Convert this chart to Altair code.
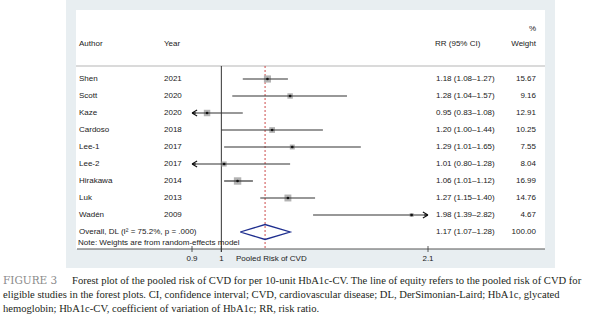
import altair as alt
import pandas as pd

# ---- data ----
authors = ["Shen", "Scott", "Kaze", "Cardoso", "Lee-1", "Lee-2", "Hirakawa", "Luk", "Wadén"]
years = [2021, 2020, 2020, 2018, 2017, 2017, 2014, 2013, 2009]
rr = [1.18, 1.28, 0.95, 1.20, 1.29, 1.01, 1.06, 1.27, 1.98]
lo = [1.08, 1.04, 0.83, 1.00, 1.01, 0.80, 1.01, 1.15, 1.39]
hi = [1.27, 1.57, 1.08, 1.44, 1.65, 1.28, 1.12, 1.40, 2.82]
weights = [15.67, 9.16, 12.91, 10.25, 7.55, 8.04, 16.99, 14.76, 4.67]
pooled = [1.17, 1.07, 1.28]  # estimate, lower, upper
overall_label = "Overall, DL (I² = 75.2%, p = .000)"
note_label = "Note: Weights are from random-effects model"
tick_values = [0.9, 1, 2.1]
tick_labels = ["0.9", "1", "2.1"]
axis_title = "Pooled Risk of CVD"
caption_head = "FIGURE 3"
caption_lines = [
    "Forest plot of the pooled risk of CVD for per 10-unit HbA1c-CV. The line of equity refers to the pooled risk of CVD for",
    "eligible studies in the forest plots. CI, confidence interval; CVD, cardiovascular disease; DL, DerSimonian-Laird; HbA1c, glycated",
    "hemoglobin; HbA1c-CV, coefficient of variation of HbA1c; RR, risk ratio.",
]

XMIN, XMAX = 0.9, 2.1
FONT = "Liberation Sans"
SERIF = "Liberation Serif"
FS = 8
CFS = 10.6

df = pd.DataFrame({
    "author": authors, "year": [str(y) for y in years], "rr": rr, "lo": lo, "hi": hi,
    "w": weights, "row": list(range(len(authors))),
})
df["lo_c"] = df["lo"].clip(lower=XMIN)
df["hi_c"] = df["hi"].clip(upper=XMAX)
df["ci"] = [f"{a:.2f} ({b:.2f}–{c:.2f})" for a, b, c in zip(rr, lo, hi)]
df["wt"] = [f"{w:.2f}" for w in weights]

n = len(authors)
xs = alt.Scale(type="log", domain=[XMIN, XMAX], range=[192, 428], nice=False, zero=False)
ys = alt.Scale(domain=[0, n], range=[79, 79 + 17 * n], zero=False, nice=False)
X = lambda f: alt.X(f, type="quantitative", scale=xs, axis=None)
Y = lambda f: alt.Y(f, type="quantitative", scale=ys, axis=None)

one = alt.Data(values=[{"a": 1}])


def box(x1, x2, y1, y2, color):
    return alt.Chart(one).mark_rect(color=color).encode(
        x=alt.value(x1), x2=alt.value(x2), y=alt.value(y1), y2=alt.value(y2))


def hline(x1, x2, y, color, w=1):
    return alt.Chart(one).mark_rule(color=color, strokeWidth=w).encode(
        x=alt.value(x1), x2=alt.value(x2), y=alt.value(y))


def label(txt, x, y, align="left", size=FS, font=FONT, color="#222", weight="normal"):
    return alt.Chart(one).mark_text(align=align, baseline="middle", fontSize=size, font=font,
                                    color=color, fontWeight=weight).encode(
        x=alt.value(x), y=alt.value(y), text=alt.value(txt))


layers = []
layers.append(box(66, 555, 0, 268, "#e8eef1"))
layers.append(box(76, 545, 10, 249, "#ffffff"))
layers.append(hline(76, 545, 66, "#b5b5b5"))
layers.append(hline(77, 545, 249, "#555555"))

# ticks and labels
tick_df = pd.DataFrame({"v": tick_values, "lab": tick_labels})
layers.append(alt.Chart(tick_df).mark_rule(color="#333", strokeWidth=0.8).encode(
    x=X("v"), y=alt.value(246), y2=alt.value(252)))
layers.append(alt.Chart(tick_df).mark_text(fontSize=FS, font=FONT, color="#222", baseline="middle").encode(
    x=X("v"), y=alt.value(259), text="lab:N"))
layers.append(label(axis_title, 236, 259))

# line of no effect and pooled line
ref_df = pd.DataFrame({"v": [1.0]})
layers.append(alt.Chart(ref_df).mark_rule(color="#333", strokeWidth=1).encode(
    x=X("v"), y=alt.value(66), y2=alt.value(252)))
pool_df = pd.DataFrame({"v": [pooled[0]]})
layers.append(alt.Chart(pool_df).mark_rule(color="#cc4a4a", strokeWidth=1, strokeDash=[2, 2]).encode(
    x=X("v"), y=alt.value(66), y2=alt.value(249)))

# squares
layers.append(alt.Chart(df).mark_square(color="#b3b3b3", opacity=1).encode(
    x=X("rr"), y=Y("row"),
    size=alt.Size("w:Q", scale=alt.Scale(type="linear", domain=[0, 17], range=[0, 55], zero=True), legend=None)))
# CI lines
layers.append(alt.Chart(df).mark_rule(color="#333", strokeWidth=1.2).encode(
    x=X("lo_c"), x2="hi_c", y=Y("row")))
# point dots
layers.append(alt.Chart(df).mark_circle(color="#111", size=7, opacity=1).encode(x=X("rr"), y=Y("row")))
# arrows
left_df = df[df["lo"] < XMIN]
right_df = df[df["hi"] > XMAX]
layers.append(alt.Chart(left_df).mark_point(shape="M0,0L1.7,-1M0,0L1.7,1M0,0L1.3,0", filled=False,
                                            color="#111", size=36, strokeWidth=1.1, opacity=1).encode(
    x=X("lo_c"), y=Y("row")))
layers.append(alt.Chart(right_df).mark_point(shape="M0,0L-1.7,-1M0,0L-1.7,1M0,0L-1.3,0", filled=False,
                                             color="#111", size=36, strokeWidth=1.1, opacity=1).encode(
    x=X("hi_c"), y=Y("row")))

# diamond
dia = pd.DataFrame({
    "x": [pooled[1], pooled[0], pooled[2], pooled[0], pooled[1]],
    "y": [n, n - 0.44, n, n + 0.44, n],
    "o": [0, 1, 2, 3, 4],
})
layers.append(alt.Chart(dia).mark_line(color="#1f2f8f", strokeWidth=1.3, strokeJoin="miter").encode(
    x=X("x"), y=Y("y"), order="o:Q"))

# text columns
tx = lambda align="left": alt.Chart(df).mark_text(align=align, baseline="middle", fontSize=FS,
                                                  font=FONT, color="#222")
layers.append(tx().encode(x=alt.value(79), y=Y("row"), text="author:N"))
layers.append(tx().encode(x=alt.value(164), y=Y("row"), text="year:N"))
layers.append(tx().encode(x=alt.value(436), y=Y("row"), text="ci:N"))
layers.append(tx("right").encode(x=alt.value(536), y=Y("row"), text="wt:N"))

yo = 79 + 17 * n
layers.append(label(overall_label, 79, yo))
layers.append(label(f"{pooled[0]:.2f} ({pooled[1]:.2f}–{pooled[2]:.2f})", 436, yo))
layers.append(label("100.00", 536, yo, align="right"))
layers.append(label(note_label, 78, 243))

# headers
layers.append(label("Author", 79, 44))
layers.append(label("Year", 164, 44))
layers.append(label("RR (95% CI)", 435, 44))
layers.append(label("Weight", 536, 44, align="right"))
layers.append(label("%", 536, 29, align="right"))

# caption
layers.append(label(caption_head, 3, 281, size=10.5, font="DejaVu Serif", color="#8a8a8a"))
layers.append(label(caption_lines[0], 72, 281, size=CFS, font=SERIF, color="#231f20"))
layers.append(label(caption_lines[1], 3, 295, size=CFS, font=SERIF, color="#231f20"))
layers.append(label(caption_lines[2], 3, 309, size=CFS, font=SERIF, color="#231f20"))

chart = alt.layer(*layers).properties(
    width=592, height=328, padding=0, autosize=alt.AutoSizeParams(type="none"),
    background="white",
).configure_view(stroke=None)

chart.save("out.html", embed_options={"renderer": "svg", "actions": False})
